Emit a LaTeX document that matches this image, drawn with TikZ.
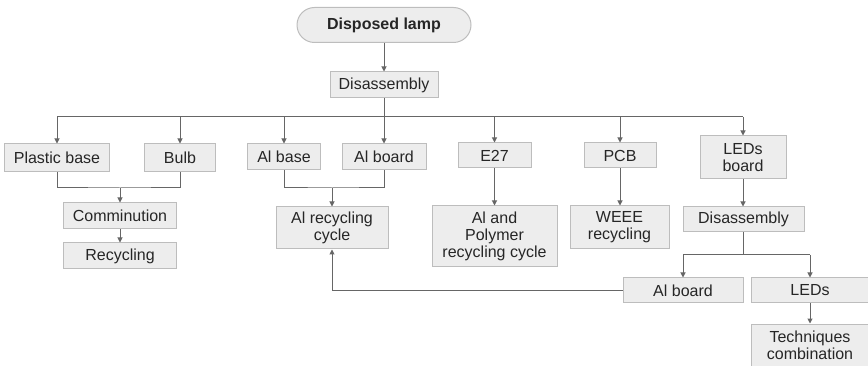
\documentclass[tikz,border=0pt]{standalone}
\usepackage{fontspec}
\setmainfont{Liberation Sans}
\usetikzlibrary{arrows.meta,shapes.misc}
\definecolor{boxfill}{HTML}{EDEDED}
\definecolor{boxline}{HTML}{BDBDBD}
\definecolor{conn}{HTML}{666666}
\tikzset{
  box/.style={draw=boxline, fill=boxfill, line width=1pt, inner sep=0pt, align=center,
    font=\fontsize{16}{17}\selectfont, text=black!85},
  startbox/.style={box, rounded rectangle, font=\bfseries\fontsize{16}{17}\selectfont},
  conline/.style={draw=conn, line width=1pt},
  arr/.style={conline, -{Triangle[length=5pt,width=5pt]}},
}
\begin{document}
\begin{tikzpicture}[x=1pt,y=-1pt]
\useasboundingbox (0,0) rectangle (868,366);
% nodes
\node[startbox, minimum width=174pt, minimum height=35pt] (lamp) at (384,25) {Disposed lamp};
\node[box, minimum width=108pt, minimum height=26pt] (dis) at (384,85) {Disassembly};
\node[box, minimum width=105pt, minimum height=28pt] (pb) at (57,158) {Plastic base};
\node[box, minimum width=71pt, minimum height=28pt] (bulb) at (180,158) {Bulb};
\node[box, minimum width=73pt, minimum height=26pt] (alb) at (284,157) {Al base};
\node[box, minimum width=84pt, minimum height=26pt] (albo) at (384,157) {Al board};
\node[box, minimum width=73pt, minimum height=25pt] (e27) at (494.5,155.5) {E27};
\node[box, minimum width=72pt, minimum height=25pt] (pcb) at (620,155.5) {PCB};
\node[box, minimum width=86pt, minimum height=43pt] (ledsb) at (743,157.5) {LEDs\\board};
\node[box, minimum width=113pt, minimum height=26pt] (comm) at (120,216) {Comminution};
\node[box, minimum width=113pt, minimum height=26pt] (rec) at (120,256) {Recycling};
\node[box, minimum width=112pt, minimum height=42pt] (alrc) at (332,228) {Al recycling\\cycle};
\node[box, minimum width=125pt, minimum height=61pt] (alpoly) at (494.5,236.5) {Al and\\Polymer\\recycling cycle};
\node[box, minimum width=99pt, minimum height=43pt] (weee) at (619.5,227.5) {WEEE\\recycling};
\node[box, minimum width=121pt, minimum height=25pt] (dis2) at (743.5,219.5) {Disassembly};
\node[box, minimum width=120pt, minimum height=25pt] (alb2) at (683,290.5) {Al board};
\node[box, minimum width=118pt, minimum height=25pt] (leds) at (810,290.5) {LEDs};
\node[box, minimum width=118pt, minimum height=42pt] (tech) at (810,345) {Techniques\\combination};
% helper coordinates
\coordinate (bus) at (0,117);
\coordinate (mrg) at (0,188);
\coordinate (bus2) at (0,255);
% connectors
\draw[arr] (lamp.south) -- (dis.north);
\draw[conline] (dis.south) -- (dis.south |- bus);
\draw[conline] (pb.north |- bus) -- (ledsb.north |- bus);
\foreach \n in {pb,bulb,alb,albo,e27,pcb,ledsb}
  \draw[arr] (\n.north |- bus) -- (\n.north);
\draw[conline] (pb.south) |- (comm.north |- mrg) -| (bulb.south);
\draw[arr] (comm.north |- mrg) -- (comm.north);
\draw[arr] (comm.south) -- (rec.north);
\draw[conline] (alb.south) |- (alrc.north |- mrg) -| (albo.south);
\draw[arr] (alrc.north |- mrg) -- (alrc.north);
\draw[arr] (e27.south) -- (alpoly.north);
\draw[arr] (pcb.south) -- (pcb.south |- weee.north);
\draw[arr] (ledsb.south) -- (ledsb.south |- dis2.north);
\draw[conline] (dis2.south) -- (dis2.south |- bus2);
\draw[conline] (alb2.north |- bus2) -- (leds.north |- bus2);
\draw[arr] (alb2.north |- bus2) -- (alb2.north);
\draw[arr] (leds.north |- bus2) -- (leds.north);
\draw[arr] (leds.south) -- (tech.north);
\draw[arr] (alb2.west) -| (alrc.south);
\end{tikzpicture}
\end{document}
